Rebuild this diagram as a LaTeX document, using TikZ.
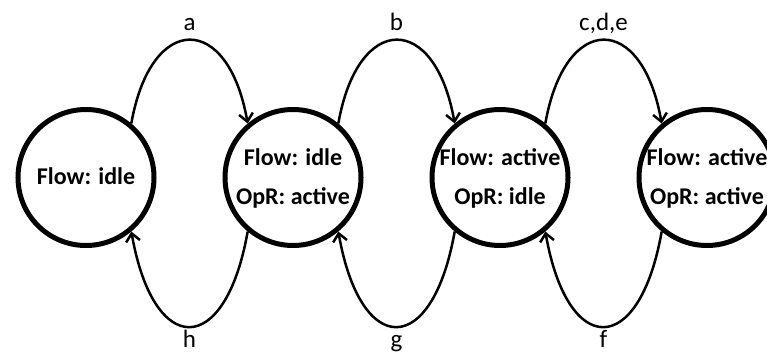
\documentclass[tikz,border=0pt]{standalone}
\usepackage{fontspec}
\setmainfont{Carlito}
\usetikzlibrary{arrows.meta}
\newcommand\twolines[2]{\makebox[0pt]{\begin{tabular}{@{}c@{}}#1\\#2\end{tabular}}}
\newcommand\oneline[1]{\makebox[0pt]{\raisebox{3pt}{#1}}}
\begin{document}
\begin{tikzpicture}[x=1pt,y=1pt,
  state/.style={circle, draw, line width=5pt, minimum size=136pt, inner sep=0pt,
    font=\bfseries\fontsize{24}{39}\selectfont},
  trans/.style={line width=2.5pt, -{Straight Barb[length=8pt,width=14pt,line width=2.5pt]}},
  lbl/.style={font=\fontsize{25}{30}\selectfont, anchor=base, inner sep=0pt}]
\useasboundingbox (0,0) rectangle (767,354);
\clip (0,0) rectangle (767,354);
\node[state] (s1) at (86,176.5) {\oneline{Flow: idle}};
\node[state] (s2) at (293,176.5) {\twolines{Flow: idle}{OpR: active}};
\node[state] (s3) at (500,176.5) {\twolines{Flow: active}{OpR: idle}};
\node[state] (s4) at (707,176.5) {\twolines{Flow: active}{OpR: active}};
% top arcs
\draw[trans] (s1.50) .. controls +(80:113) and +(100:113) .. (s2.130)
  node[lbl, pos=0.5, yshift=10pt] {a};
\draw[trans] (s2.50) .. controls +(80:113) and +(100:113) .. (s3.130)
  node[lbl, pos=0.5, yshift=10pt] {b};
\draw[trans] (s3.50) .. controls +(80:113) and +(100:113) .. (s4.130)
  node[lbl, pos=0.5, yshift=10pt] {c,d,e};
% bottom arcs
\draw[trans] (s2.230) .. controls +(260:129) and +(280:129) .. (s1.310)
  node[lbl, pos=0.5, yshift=-21pt] {h};
\draw[trans] (s3.230) .. controls +(260:129) and +(280:129) .. (s2.310)
  node[lbl, pos=0.5, yshift=-21pt] {g};
\draw[trans] (s4.230) .. controls +(260:129) and +(280:129) .. (s3.310)
  node[lbl, pos=0.5, yshift=-21pt] {f};
\end{tikzpicture}
\end{document}
